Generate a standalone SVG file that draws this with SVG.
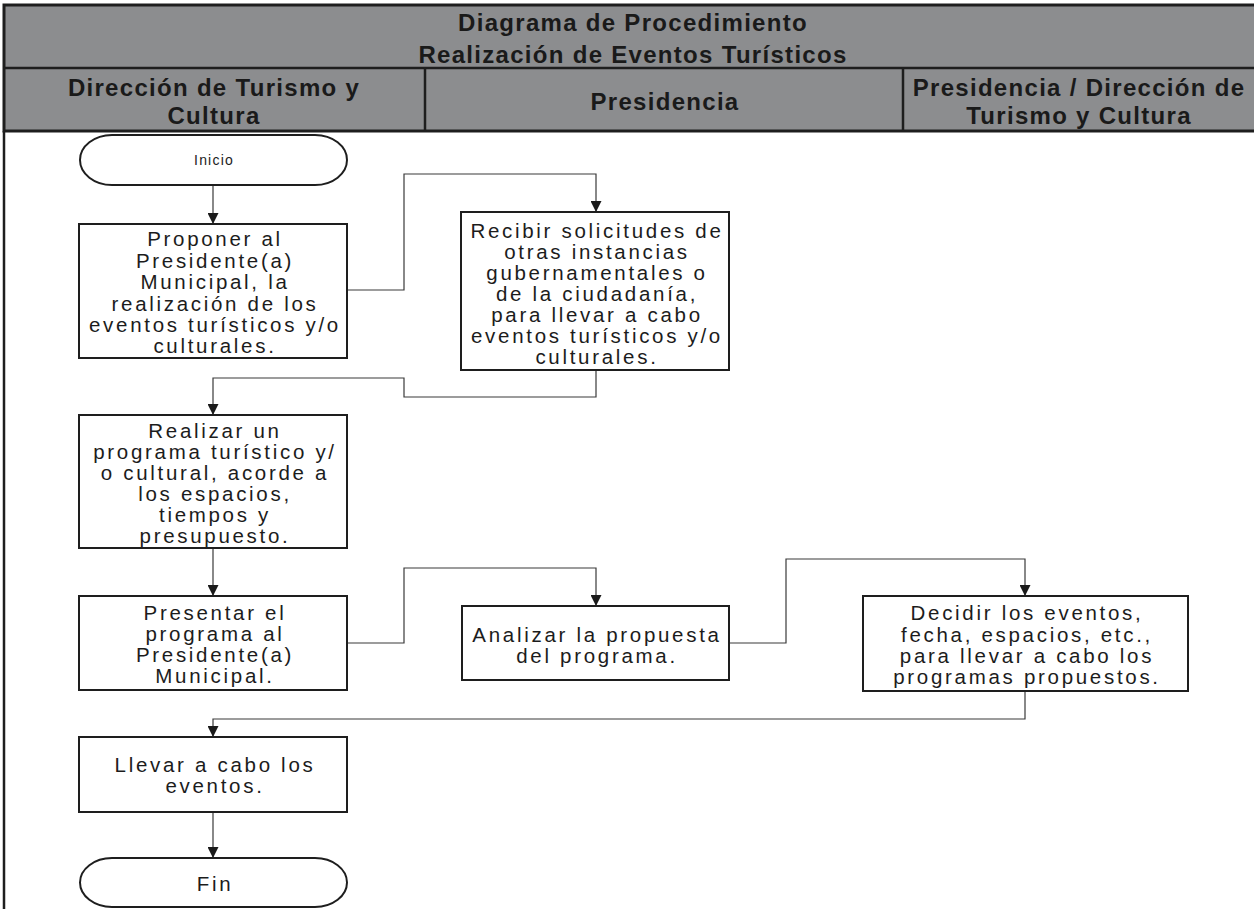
<svg xmlns="http://www.w3.org/2000/svg" width="1254" height="909" viewBox="0 0 1254 909">
  <style>
    .hdr { fill: #8c8d8f; stroke: #1e1e1e; stroke-width: 3; }
    .hline { stroke: #1e1e1e; stroke-width: 2.5; fill: none; }
    .htxt { font-family: "Liberation Sans", Arial, sans-serif; font-weight: bold; font-size: 24px; letter-spacing: 1.3px; fill: #1a1a1a; text-anchor: middle; }
    .box { fill: #ffffff; stroke: #1e1e1e; stroke-width: 2; }
    .txt { font-family: "Liberation Sans", Arial, sans-serif; font-size: 20.5px; letter-spacing: 2.7px; fill: #1c1c1c; text-anchor: middle; }
    .small { font-size: 14px; letter-spacing: 1.2px; }
    .conn { stroke: #3a3a3a; stroke-width: 1.2; fill: none; marker-end: url(#arrow); }
  </style>
  <defs>
    <marker id="arrow" markerUnits="userSpaceOnUse" markerWidth="11" markerHeight="11" refX="11" refY="5.5" orient="auto">
      <path d="M0,0 L11,5.5 L0,11 z" fill="#1a1a1a"/>
    </marker>
  </defs>

  <rect width="1254" height="909" fill="#ffffff"/>

  <!-- header band -->
  <g id="header">
    <rect class="hdr" x="4" y="5" width="1262" height="126"/>
    <line class="hline" x1="4" y1="68" x2="1254" y2="68"/>
    <line class="hline" x1="425" y1="68" x2="425" y2="131"/>
    <line class="hline" x1="903" y1="68" x2="903" y2="131"/>
    <text class="htxt" x="633" y="31">Diagrama de Procedimiento</text>
    <text class="htxt" x="633" y="63">Realización de Eventos Turísticos</text>
    <text class="htxt" x="214" y="96">Dirección de Turismo y</text>
    <text class="htxt" x="214" y="124">Cultura</text>
    <text class="htxt" x="665" y="110">Presidencia</text>
    <text class="htxt" x="1079" y="96">Presidencia / Dirección de</text>
    <text class="htxt" x="1079" y="124">Turismo y Cultura</text>
  </g>

  <!-- left lane border -->
  <line class="hline" x1="4" y1="131" x2="4" y2="909" stroke-width="2"/>

  <!-- connectors -->
  <g id="connectors">
    <path class="conn" d="M213,185 V224"/>
    <path class="conn" d="M347,290 H404 V174 H596 V212"/>
    <path class="conn" d="M596,370 V397 H404 V378 H213 V415"/>
    <path class="conn" d="M213,548 V596"/>
    <path class="conn" d="M347,643 H404 V568 H596 V606"/>
    <path class="conn" d="M729,643 H786 V559 H1025 V596"/>
    <path class="conn" d="M1025,691 V719 H213 V737"/>
    <path class="conn" d="M213,812 V858"/>
  </g>

  <g id="inicio">
    <rect class="box" x="80" y="135" width="267" height="50" rx="32" ry="25"/>
    <text class="txt small" x="214" y="165">Inicio</text>
  </g>

  <g id="proponer">
    <rect class="box" x="79" y="224" width="268" height="134"/>
    <text class="txt" x="215" y="246">Proponer al</text>
    <text class="txt" x="215" y="268">Presidente(a)</text>
    <text class="txt" x="215" y="289">Municipal, la</text>
    <text class="txt" x="215" y="311">realización de los</text>
    <text class="txt" x="215" y="332">eventos turísticos y/o</text>
    <text class="txt" x="215" y="353">culturales.</text>
  </g>

  <g id="recibir">
    <rect class="box" x="461" y="212" width="268" height="158"/>
    <text class="txt" x="597" y="238">Recibir solicitudes de</text>
    <text class="txt" x="597" y="259">otras instancias</text>
    <text class="txt" x="597" y="280">gubernamentales o</text>
    <text class="txt" x="597" y="301">de la ciudadanía,</text>
    <text class="txt" x="597" y="322">para llevar a cabo</text>
    <text class="txt" x="597" y="343">eventos turísticos y/o</text>
    <text class="txt" x="597" y="364">culturales.</text>
  </g>

  <g id="realizar">
    <rect class="box" x="79" y="415" width="268" height="133"/>
    <text class="txt" x="215" y="438">Realizar un</text>
    <text class="txt" x="215" y="459">programa turístico y/</text>
    <text class="txt" x="215" y="480">o cultural, acorde a</text>
    <text class="txt" x="215" y="501">los espacios,</text>
    <text class="txt" x="215" y="522">tiempos y</text>
    <text class="txt" x="215" y="543">presupuesto.</text>
  </g>

  <g id="presentar">
    <rect class="box" x="79" y="596" width="268" height="94"/>
    <text class="txt" x="215" y="620">Presentar el</text>
    <text class="txt" x="215" y="641">programa al</text>
    <text class="txt" x="215" y="662">Presidente(a)</text>
    <text class="txt" x="215" y="683">Municipal.</text>
  </g>

  <g id="analizar">
    <rect class="box" x="462" y="606" width="267" height="74"/>
    <text class="txt" x="597" y="642">Analizar la propuesta</text>
    <text class="txt" x="597" y="663">del programa.</text>
  </g>

  <g id="decidir">
    <rect class="box" x="863" y="596" width="325" height="95"/>
    <text class="txt" x="1027" y="620">Decidir los eventos,</text>
    <text class="txt" x="1027" y="642">fecha, espacios, etc.,</text>
    <text class="txt" x="1027" y="663">para llevar a cabo los</text>
    <text class="txt" x="1027" y="684">programas propuestos.</text>
  </g>

  <g id="llevar">
    <rect class="box" x="79" y="737" width="268" height="75"/>
    <text class="txt" x="215" y="772">Llevar a cabo los</text>
    <text class="txt" x="215" y="793">eventos.</text>
  </g>

  <g id="fin">
    <rect class="box" x="80" y="858" width="267" height="49" rx="32" ry="24.5"/>
    <text class="txt" x="215" y="891">Fin</text>
  </g>
</svg>
